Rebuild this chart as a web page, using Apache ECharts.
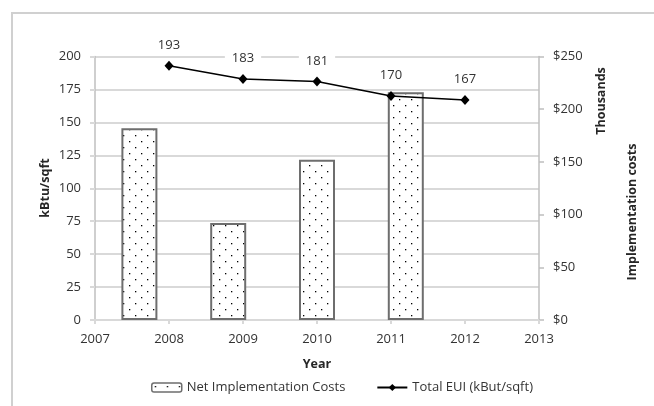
<!DOCTYPE html>
<html>
<head>
    <meta charset="utf-8">
    <title>EUI vs implementation costs</title>
    <script src="https://cdn.jsdelivr.net/npm/echarts@6/dist/echarts.min.js"></script>
    <style>
        html, body { margin: 0; padding: 0; background: #fff; }
    </style>
</head>
<body>
    <div id="main" style="width: 654px;height:406px;"></div>
    <script type="text/javascript">
        var myChart = echarts.init(document.getElementById('main'));

        // line: total EUI per year
        var euiYears = [2008, 2009, 2010, 2011, 2012];
        var euiValues = [193, 183, 181, 170, 167];
        // bars: net implementation costs (thousands of $), placed between years like the excel original
        var costX = [2007.6, 2008.8, 2010.0, 2011.2];
        var costValues = [182, 92, 152, 216];

        var FONT = 'Open Sans';
        var FS = 13;
        var GRID = '#d9d9d9';
        var AXIS = '#bfbfbf';
        var TXT = '#333333';

        // dotted fill for the bars
        var pat = document.createElement('canvas');
        pat.width = 12; pat.height = 12;
        var ctx = pat.getContext('2d');
        ctx.fillStyle = '#fff';
        ctx.fillRect(0, 0, 12, 12);
        ctx.fillStyle = '#000';
        ctx.fillRect(3, 3, 1.3, 1.3);
        ctx.fillRect(9, 9, 1.3, 1.3);

        var barData = costX.map(function (x, i) { return [x, costValues[i]]; });
        var lineData = euiYears.map(function (x, i) { return [x, euiValues[i]]; });

        var titleFont = 'bold 12.5px "Open Sans"';

        var option = {
            animation: false,
            textStyle: { fontFamily: FONT },
            grid: { left: 95, right: 115, top: 56.5, bottom: 86 },
            graphic: [
                { type: 'rect', shape: { x: 12, y: 13, width: 700, height: 500 },
                  style: { fill: 'none', stroke: '#d0d0d0', lineWidth: 2 }, silent: true },
                { type: 'text', x: 45, y: 188, rotation: Math.PI / 2,
                  style: { text: 'kBtu/sqft', font: titleFont, fill: '#262626', align: 'center', verticalAlign: 'middle' } },
                { type: 'text', x: 601, y: 101, rotation: Math.PI / 2,
                  style: { text: 'Thousands', font: titleFont, fill: '#262626', align: 'center', verticalAlign: 'middle' } },
                { type: 'text', x: 632, y: 212, rotation: Math.PI / 2,
                  style: { text: 'Implementation costs', font: titleFont, fill: '#262626', align: 'center', verticalAlign: 'middle' } },
                { type: 'text', x: 317, y: 364,
                  style: { text: 'Year', font: titleFont, fill: '#262626', align: 'center', verticalAlign: 'middle' } }
            ],
            legend: {
                left: 146, top: 376,
                itemWidth: 30, itemHeight: 9, itemGap: 31,
                textStyle: { fontFamily: FONT, fontSize: FS, color: TXT },
                data: [
                    { name: 'Net Implementation Costs', itemStyle: { color: { image: pat, repeat: 'repeat' }, borderColor: '#6e6e6e', borderWidth: 1.5 } },
                    { name: 'Total EUI (kBut/sqft)' }
                ]
            },
            xAxis: {
                type: 'value', min: 2007, max: 2013, interval: 1,
                axisLine: { show: true, lineStyle: { color: GRID, width: 2 } },
                axisTick: { show: true, length: 4, lineStyle: { color: GRID, width: 2 } },
                axisLabel: { margin: 13, fontSize: FS, color: TXT, fontFamily: FONT,
                    formatter: function (v) { return String(v); } },
                splitLine: { show: false }
            },
            yAxis: [
                {
                    type: 'value', min: 0, max: 200, interval: 25, position: 'left',
                    axisLine: { show: true, lineStyle: { color: AXIS, width: 1.5 } },
                    axisTick: { show: true, length: 5, lineStyle: { color: GRID, width: 2 } },
                    axisLabel: { margin: 14, fontSize: FS, color: TXT, fontFamily: FONT },
                    splitLine: { show: true, lineStyle: { color: GRID, width: 2 } }
                },
                {
                    type: 'value', min: 0, max: 250, interval: 50, position: 'right',
                    axisLine: { show: true, lineStyle: { color: AXIS, width: 1.5 } },
                    axisTick: { show: true, length: 5, lineStyle: { color: AXIS, width: 1.5 } },
                    axisLabel: { margin: 14, fontSize: FS, color: TXT, fontFamily: FONT,
                        formatter: function (v) { return '$' + v; } },
                    splitLine: { show: false }
                }
            ],
            series: [
                {
                    name: 'Net Implementation Costs',
                    type: 'bar',
                    yAxisIndex: 1,
                    barWidth: 36,
                    data: barData,
                    itemStyle: {
                        color: { image: pat, repeat: 'repeat' },
                        borderColor: '#6e6e6e',
                        borderWidth: 2
                    }
                },
                {
                    name: 'Total EUI (kBut/sqft)',
                    type: 'line',
                    yAxisIndex: 0,
                    data: lineData,
                    symbol: 'diamond',
                    symbolSize: [9, 10],
                    lineStyle: { color: '#000', width: 1.5 },
                    itemStyle: { color: '#000' },
                    label: {
                        show: true, position: 'top', distance: 8,
                        fontSize: FS, color: TXT, fontFamily: FONT,
                        backgroundColor: '#fff', padding: [1, 7],
                        formatter: function (p) { return p.value[1]; }
                    },
                    z: 5
                }
            ]
        };

        myChart.setOption(option);
    </script>
</body>
</html>
